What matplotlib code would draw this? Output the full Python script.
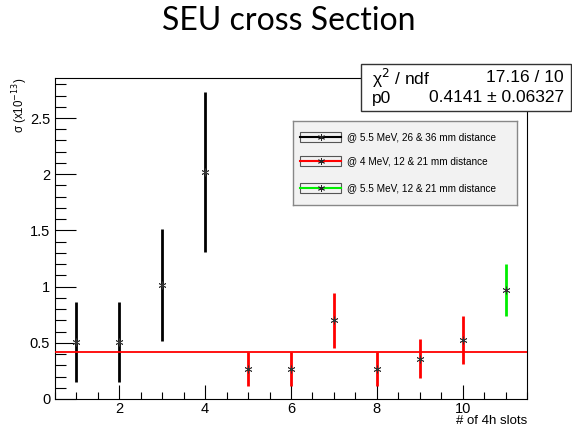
import numpy as np
import matplotlib.pyplot as plt
from matplotlib.patches import Rectangle
from matplotlib.ticker import MultipleLocator

plt.rcParams['font.family'] = ['Liberation Sans', 'DejaVu Sans']

# data
x_black = [1, 2, 3, 4]
y_black = [0.51, 0.51, 1.015, 2.02]
e_black = [0.355, 0.355, 0.50, 0.71]

x_red = [5, 6, 7, 8, 9, 10]
y_red = [0.27, 0.27, 0.70, 0.27, 0.36, 0.525]
e_red = [0.15, 0.15, 0.245, 0.15, 0.17, 0.21]

x_green = [11]
y_green = [0.97]
e_green = [0.235]

p0 = 0.4141
labels = ['@ 5.5 MeV, 26 & 36 mm distance',
          '@ 4 MeV, 12 & 21 mm distance',
          '@ 5.5 MeV, 12 & 21 mm distance']
colors = ['black', '#ff0000', '#00ee00']

W, H = 572, 428
fig = plt.figure(figsize=(W / 100, H / 100), dpi=100)
ax = fig.add_axes([55 / W, 1 - 399 / H, (527 - 55) / W, (399 - 78) / H])

star = (6, 2, 0)
for xs, ys, es, c in [(x_black, y_black, e_black, colors[0]),
                      (x_red, y_red, e_red, colors[1]),
                      (x_green, y_green, e_green, colors[2])]:
    ax.errorbar(xs, ys, yerr=es, fmt='none', ecolor=c, elinewidth=2, capsize=0, zorder=2)
    ax.plot(xs, ys, ls='none', marker=star, ms=5.5, mew=0.6, color='#333333', zorder=4)

# constant fit
ax.plot([0.53, 11.5], [p0, p0], color='#ff0000', lw=1.3, zorder=3)

ax.set_xlim(0.5, 11.5)
ax.set_ylim(0, 2.856)
ax.xaxis.set_major_locator(MultipleLocator(2))
ax.xaxis.set_minor_locator(MultipleLocator(0.5))
ax.yaxis.set_major_locator(MultipleLocator(0.5))
ax.yaxis.set_minor_locator(MultipleLocator(0.1))
ax.tick_params(which='both', direction='in', top=False, right=False, labelsize=10.5)
ax.tick_params(axis='y', which='major', length=15, width=0.8)
ax.tick_params(axis='y', which='minor', length=8, width=0.8)
ax.tick_params(axis='x', which='major', length=10, width=0.8, pad=2)
ax.tick_params(axis='x', which='minor', length=5, width=0.8)
ax.yaxis.set_major_formatter(plt.FuncFormatter(lambda v, p: '%g' % v))
for s in ax.spines.values():
    s.set_linewidth(0.8)

fig.text(527 / W, 1 - 421 / H, '# of 4h slots', ha='right', va='center', fontsize=9.5)
fig.text(20 / W, 1 - 78 / H, 'σ (x10$^{-13}$)', rotation=90, ha='center', va='top', fontsize=8.3)

# title
fig.text(289 / W, 1 - 21 / H, 'SEU cross Section', ha='center', va='center',
         fontsize=23, family=['Lato', 'DejaVu Sans'])

# stats box
fig.add_artist(Rectangle((361 / W, 1 - 111 / H), (571 - 361) / W, (111 - 64) / H,
                         transform=fig.transFigure, facecolor='white', edgecolor='#333333', lw=1, zorder=5))
fig.text(372 / W, 1 - 78 / H, 'χ$^{2}$ / ndf', ha='left', va='center', fontsize=12.5, zorder=6)
fig.text(564 / W, 1 - 78 / H, '17.16 / 10', ha='right', va='center', fontsize=12.5, zorder=6)
fig.text(372 / W, 1 - 98 / H, 'p0', ha='left', va='center', fontsize=12.5, zorder=6)
fig.text(564 / W, 1 - 98 / H, '0.4141 ± 0.06327', ha='right', va='center', fontsize=12.5, zorder=6)

# legend box
lg = fig.add_axes([293 / W, 1 - 205 / H, (517 - 293) / W, (205 - 121) / H])
lg.set_xlim(0, 224)
lg.set_ylim(84, 0)
lg.set_xticks([])
lg.set_yticks([])
lg.set_facecolor('#f2f2f2')
for s in lg.spines.values():
    s.set_edgecolor('#888888')
    s.set_linewidth(1)
rows = [16, 40, 67]
for r, c, lab in zip(rows, colors, labels):
    lg.add_patch(Rectangle((7, r - 5), 41, 10, facecolor='none', edgecolor='#555555', lw=0.8))
    lg.plot([7, 48], [r, r], color=c, lw=1.5)
    lg.plot([28], [r], marker=star, ms=5, mew=0.6, color='#222222')
    lg.text(54, r, lab, ha='left', va='center', fontsize=7.2)

fig.savefig('out.png', dpi=100)
